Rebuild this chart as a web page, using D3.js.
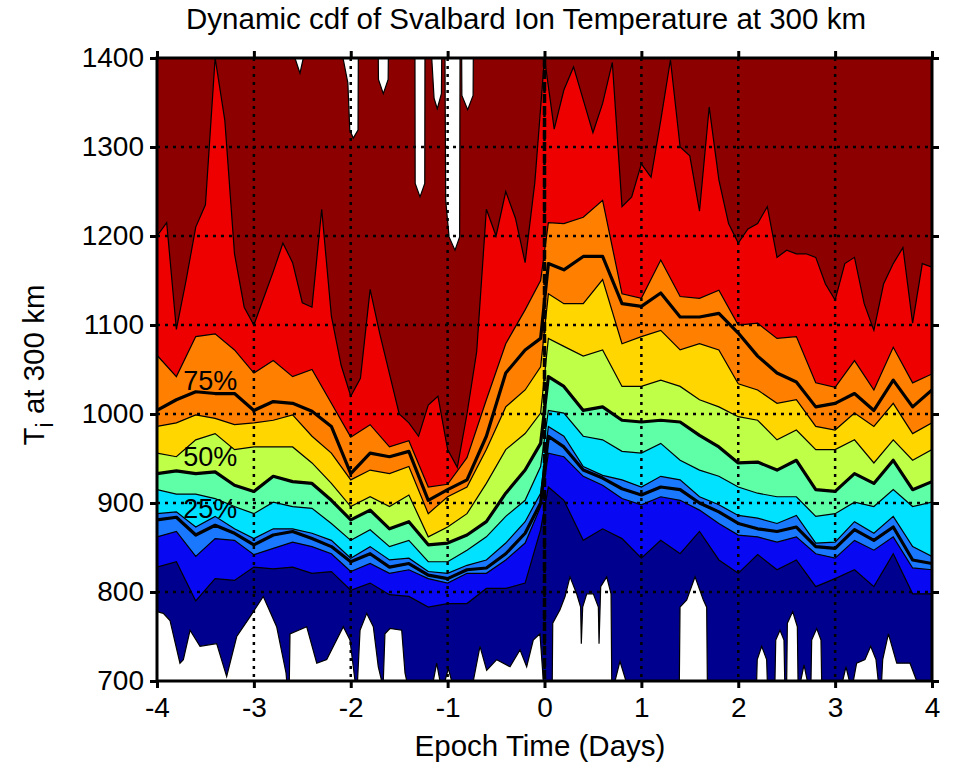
<!DOCTYPE html>
<html>
<head>
<meta charset="utf-8">
<script src="https://cdnjs.cloudflare.com/ajax/libs/d3/7.8.5/d3.min.js"></script>
<style>
  body { margin: 0; background: #fff; }
  text { font-family: 'Liberation Sans', Arial, sans-serif; fill: #000; }
</style>
</head>
<body>
<div id="vis"></div>
<script>
// epoch grid (days) used by the percentile curves, with a split at the epoch jump
var epochDays = [-4, -3.8, -3.6, -3.4, -3.2, -3, -2.8, -2.6, -2.4, -2.2, -2, -1.8, -1.6, -1.4, -1.2, -1, -0.8, -0.6, -0.4, -0.2,
  -0.04, 0.04,
  0.2, 0.4, 0.6, 0.8, 1, 1.2, 1.4, 1.6, 1.8, 2, 2.2, 2.4, 2.6, 2.8, 3, 3.2, 3.4, 3.6, 3.8, 4]

// percentile curves of Ti (K)
var p10 = [828, 834, 790, 815, 813, 828, 826, 828, 821, 823, 802, 810, 797, 795, 783, 787, 787, 804, 804, 810,
  870, 918,
  903, 858, 871, 860, 838, 858, 843, 868, 836, 821, 842, 825, 836, 806, 815, 825, 806, 843, 798, 798]
var p20 = [862, 868, 840, 860, 858, 842, 849, 856, 851, 843, 823, 832, 821, 825, 815, 810, 821, 821, 836, 855,
  896, 956,
  952, 930, 920, 905, 898, 907, 903, 892, 877, 864, 862, 856, 862, 843, 838, 858, 847, 862, 827, 825]
var p25 = [881, 884, 864, 875, 866, 853, 864, 868, 860, 851, 834, 843, 828, 832, 819, 815, 825, 827, 843, 866,
  900, 975,
  963, 937, 928, 916, 909, 918, 915, 900, 890, 877, 871, 868, 873, 851, 849, 870, 858, 873, 836, 832]
var p30 = [888, 890, 873, 885, 871, 860, 871, 871, 866, 858, 838, 851, 836, 838, 823, 821, 830, 836, 855, 879,
  911, 986,
  975, 941, 931, 926, 918, 930, 926, 907, 898, 886, 883, 877, 886, 855, 856, 879, 866, 885, 851, 840]
var p40 = [915, 910, 910, 905, 896, 888, 901, 896, 894, 877, 858, 870, 851, 858, 834, 834, 847, 862, 885, 903,
  941, 1004,
  1001, 975, 971, 958, 956, 967, 948, 937, 930, 918, 911, 907, 907, 885, 888, 901, 896, 915, 896, 901]
var p50 = [933, 936, 933, 935, 920, 913, 930, 924, 922, 903, 881, 892, 871, 879, 853, 855, 864, 879, 911, 937,
  967, 1042,
  1031, 1004, 1008, 993, 991, 993, 991, 976, 963, 945, 946, 937, 948, 915, 913, 933, 922, 948, 915, 924]
var p60 = [956, 952, 971, 978, 960, 963, 963, 963, 945, 922, 896, 907, 896, 909, 862, 873, 888, 922, 960, 978,
  1001, 1085,
  1076, 1065, 1072, 1031, 1031, 1038, 1031, 1016, 1008, 997, 993, 971, 982, 960, 960, 971, 945, 971, 948, 960]
var p70 = [986, 990, 999, 995, 988, 990, 993, 999, 975, 956, 926, 937, 933, 941, 888, 907, 918, 960, 1008, 1027,
  1053, 1135,
  1124, 1124, 1151, 1079, 1087, 1094, 1072, 1079, 1072, 1034, 1027, 1012, 1016, 986, 982, 1001, 986, 1012, 978, 990]
var p75 = [1004, 1016, 1025, 1023, 1023, 1004, 1014, 1012, 1003, 986, 933, 956, 952, 958, 903, 915, 926, 975, 1046, 1072,
  1085, 1169,
  1162, 1177, 1177, 1124, 1121, 1136, 1109, 1109, 1113, 1091, 1065, 1046, 1036, 1008, 1012, 1023, 1004, 1038, 1008, 1027]
var p80 = [1066, 1042, 1087, 1090, 1072, 1046, 1060, 1042, 1050, 1012, 974, 988, 963, 970, 918, 921, 951, 1016, 1079, 1117,
  1150, 1215,
  1214, 1221, 1240, 1135, 1130, 1173, 1132, 1130, 1139, 1100, 1102, 1085, 1087, 1035, 1030, 1060, 1027, 1075, 1035, 1045]

// 90th percentile on a finer 0.1 day grid
var p90Days = d3.range(-40, 41).map((k) => k / 10)
var p90 = [1200, 1215, 1095, 1150, 1210, 1235, 1400, 1330, 1180, 1120,
  1100, 1130, 1160, 1192, 1170, 1125, 1120, 1230, 1110, 1055,
  1020, 1040, 1140, 1090, 1045, 1000, 990, 975, 1010, 1020,
  960, 940, 1000, 1070, 1230, 1200, 1250, 1220, 1170, 1260,
  1400, 1320, 1364, 1390, 1353, 1316, 1349, 1395, 1233, 1244,
  1281, 1266, 1330, 1398, 1300, 1290, 1228, 1345, 1263, 1214,
  1192, 1208, 1214, 1233, 1176, 1184, 1180, 1180, 1176, 1146,
  1128, 1169, 1176, 1124, 1094, 1146, 1169, 1187, 1102, 1169, 1165]

// maximum (white above it)
var maxDays = [-4, -2.576, -2.524, -2.49, -2.08, -2.03, -2.01, -1.974, -1.925, -1.922,
  -1.716, -1.714, -1.664, -1.614, -1.612, -1.337, -1.335, -1.285, -1.236, -1.234,
  -1.164, -1.14, -1.107, -1.064, -1.061, -1.027, -1.02, -0.985, -0.924, -0.876, -0.872,
  -0.855, -0.853, -0.793, -0.737, -0.735, 4]
var maxTemps = [1400, 1400, 1383, 1400, 1400, 1372, 1319, 1310, 1319, 1400,
  1400, 1376, 1360, 1376, 1400, 1400, 1259, 1244, 1259, 1400,
  1400, 1355, 1343, 1360, 1400, 1400, 1240, 1199, 1184, 1199, 1400,
  1400, 1358, 1342, 1358, 1400, 1400]

// minimum (white below it)
var minDays = [-4, -3.935, -3.866, -3.763, -3.728, -3.659, -3.556, -3.384, -3.281, -3.177,
  -3.04, -2.903, -2.765, -2.668, -2.661, -2.634, -2.627, -2.455, -2.351, -2.248,
  -2.077, -2.008, -1.974, -1.956, -1.93, -1.904, -1.835, -1.767, -1.716, -1.681,
  -1.664, -1.647, -1.595, -1.474, -1.44, -1.422, -1.148, -1.113, -1.079, -1.027,
  -0.993, -0.958, -0.735, -0.666, -0.597, -0.493, -0.356, -0.253, -0.184, -0.116,
  -0.047, -0.012, 0.08, 0.085, 0.16, 0.212, 0.263, 0.332, 0.373, 0.38,
  0.394, 0.436, 0.504, 0.556, 0.563, 0.58, 0.642, 0.687, 0.694, 0.728,
  0.779, 0.841, 1.392, 1.399, 1.468, 1.554, 1.64, 1.674, 1.681, 2.19,
  2.196, 2.242, 2.293, 2.3, 2.379, 2.387, 2.431, 2.472, 2.48, 2.5,
  2.507, 2.562, 2.61, 2.617, 2.645, 2.679, 2.713, 2.751, 2.758, 2.81,
  2.854, 2.861, 3.078, 3.112, 3.147, 3.188, 3.222, 3.308, 3.367, 3.422,
  3.445, 3.48, 3.491, 3.55, 3.636, 3.773, 3.842, 4]
var minTemps = [778, 776, 768, 720, 724, 757, 739, 742, 705, 750,
  772, 795, 761, 709, 700, 700, 753, 761, 720, 724,
  761, 746, 716, 700, 700, 757, 776, 761, 716, 700,
  700, 753, 759, 757, 709, 700, 700, 720, 700, 700,
  714, 700, 700, 739, 712, 724, 716, 735, 716, 746,
  753, 700, 700, 765, 780, 795, 817, 798, 783, 742,
  783, 798, 798, 783, 742, 806, 817, 798, 700, 700,
  722, 700, 700, 783, 791, 817, 791, 783, 700, 700,
  724, 739, 724, 700, 700, 746, 757, 746, 700, 700,
  765, 778, 761, 700, 700, 718, 700, 700, 746, 759,
  746, 700, 700, 716, 700, 700, 720, 724, 739, 724,
  700, 700, 724, 753, 720, 720, 700, 700]

var xTicks = [-4, -3, -2, -1, 0, 1, 2, 3, 4]
var yTicks = [700, 800, 900, 1000, 1100, 1200, 1300, 1400]
var labelNames = ['25%', '50%', '75%']
var labelTemps = [893, 952, 1037]

var W = 956, H = 765
var m = { left: 157, right: 932, top: 58, bottom: 681 }

var x = d3.scaleLinear().domain([-4, 4]).range([m.left, m.right])
var y = d3.scaleLinear().domain([700, 1400]).range([m.bottom, m.top])

// fill order: top level first, each one painted over by the next lower level
var bands = [
  { days: maxDays, vals: maxTemps, color: '#8c0000' },
  { days: p90Days, vals: p90, color: '#ee0000' },
  { days: epochDays, vals: p80, color: '#ff7f00' },
  { days: epochDays, vals: p70, color: '#ffd600' },
  { days: epochDays, vals: p60, color: '#c0ff48' },
  { days: epochDays, vals: p50, color: '#5fffa8' },
  { days: epochDays, vals: p40, color: '#00e2ff' },
  { days: epochDays, vals: p30, color: '#1a78ff' },
  { days: epochDays, vals: p20, color: '#0808f2' },
  { days: epochDays, vals: p10, color: '#00008f' },
  { days: minDays, vals: minTemps, color: '#ffffff' },
]
var thick = [p25, p50, p75]

function pts(days, vals) {
  return days.map(function (d, i) {
    return [d, vals[i]]
  })
}

var svg = d3.select('#vis').append('svg').attr('width', W).attr('height', H)
svg.append('rect').attr('width', W).attr('height', H).attr('fill', '#fff')

svg.append('clipPath').attr('id', 'plot')
  .append('rect')
  .attr('x', m.left).attr('y', m.top)
  .attr('width', m.right - m.left).attr('height', m.bottom - m.top)

var g = svg.append('g').attr('clip-path', 'url(#plot)')

var area = d3.area()
  .x(function (d) { return x(d[0]) })
  .y0(m.bottom + 5)
  .y1(function (d) { return y(d[1]) })
var line = d3.line()
  .x(function (d) { return x(d[0]) })
  .y(function (d) { return y(d[1]) })

g.selectAll('path.band')
  .data(bands)
  .enter()
  .append('path')
  .attr('class', 'band')
  .attr('d', function (d) { return area(pts(d.days, d.vals)) })
  .attr('fill', function (d) { return d.color })

// thin contour edges
g.selectAll('path.edge')
  .data(bands)
  .enter()
  .append('path')
  .attr('class', 'edge')
  .attr('d', function (d) { return line(pts(d.days, d.vals)) })
  .attr('fill', 'none')
  .attr('stroke', '#000')
  .attr('stroke-width', 1.2)

// thick quartile contours
g.selectAll('path.quart')
  .data(thick)
  .enter()
  .append('path')
  .attr('class', 'quart')
  .attr('d', function (d) { return line(pts(epochDays, d)) })
  .attr('fill', 'none')
  .attr('stroke', '#000')
  .attr('stroke-width', 3.2)
  .attr('stroke-linejoin', 'round')

// dotted grid
var grid = svg.append('g')
grid.selectAll('line.vg')
  .data(xTicks.slice(1, -1))
  .enter()
  .append('line')
  .attr('x1', function (d) { return x(d) }).attr('x2', function (d) { return x(d) })
  .attr('y1', m.top).attr('y2', m.bottom)
  .attr('stroke', '#000').attr('stroke-width', 2.5).attr('stroke-dasharray', '3,5')
grid.selectAll('line.hg')
  .data(yTicks.slice(1, -1))
  .enter()
  .append('line')
  .attr('x1', m.left).attr('x2', m.right)
  .attr('y1', function (d) { return y(d) }).attr('y2', function (d) { return y(d) })
  .attr('stroke', '#000').attr('stroke-width', 2.5).attr('stroke-dasharray', '3,5')

// epoch marker
svg.append('line')
  .attr('x1', x(0)).attr('x2', x(0))
  .attr('y1', m.top).attr('y2', m.bottom)
  .attr('stroke', '#000').attr('stroke-width', 3.5).attr('stroke-dasharray', '9,3')

// contour labels
svg.selectAll('text.clab')
  .data(labelNames)
  .enter()
  .append('text')
  .attr('class', 'clab')
  .attr('x', x(-3.45))
  .attr('y', function (d, i) { return y(labelTemps[i]) })
  .attr('text-anchor', 'middle')
  .attr('dominant-baseline', 'central')
  .style('font-size', '27px')
  .text(function (d) { return d })

// axes
function styleAxis(sel) {
  sel.select('.domain').remove()
  sel.selectAll('.tick line').attr('stroke', '#000').attr('stroke-width', 3)
  sel.selectAll('.tick text').style('font-size', '28px').attr('fill', '#000')
}
function plain(d) {
  return String(d)
}
svg.append('g').attr('transform', 'translate(' + m.left + ',0)')
  .call(d3.axisLeft(y).tickValues(yTicks).tickSize(7).tickPadding(6).tickFormat(plain))
  .call(styleAxis)
svg.append('g').attr('transform', 'translate(' + m.right + ',0)')
  .call(d3.axisRight(y).tickValues(yTicks).tickSize(7).tickFormat(''))
  .call(styleAxis)
svg.append('g').attr('transform', 'translate(0,' + m.bottom + ')')
  .call(d3.axisBottom(x).tickValues(xTicks).tickSize(7).tickPadding(9).tickFormat(plain))
  .call(styleAxis)
svg.append('g').attr('transform', 'translate(0,' + m.top + ')')
  .call(d3.axisTop(x).tickValues(xTicks).tickSize(7).tickFormat(''))
  .call(styleAxis)

svg.append('rect')
  .attr('x', m.left).attr('y', m.top)
  .attr('width', m.right - m.left).attr('height', m.bottom - m.top)
  .attr('fill', 'none').attr('stroke', '#000').attr('stroke-width', 3)

// titles
svg.append('text')
  .attr('x', 526).attr('y', 29)
  .attr('text-anchor', 'middle')
  .style('font-size', '29.5px')
  .text('Dynamic cdf of Svalbard Ion Temperature at 300 km')

svg.append('text')
  .attr('x', 540).attr('y', 756)
  .attr('text-anchor', 'middle')
  .style('font-size', '29.5px')
  .text('Epoch Time (Days)')

var yl = svg.append('text')
  .attr('transform', 'translate(44,365) rotate(-90)')
  .attr('text-anchor', 'middle')
  .style('font-size', '29.5px')
yl.append('tspan').text('T')
yl.append('tspan').attr('dy', 9).style('font-size', '23px').text('i')
yl.append('tspan').attr('dy', -9).text(' at 300 km')
</script>
</body>
</html>
